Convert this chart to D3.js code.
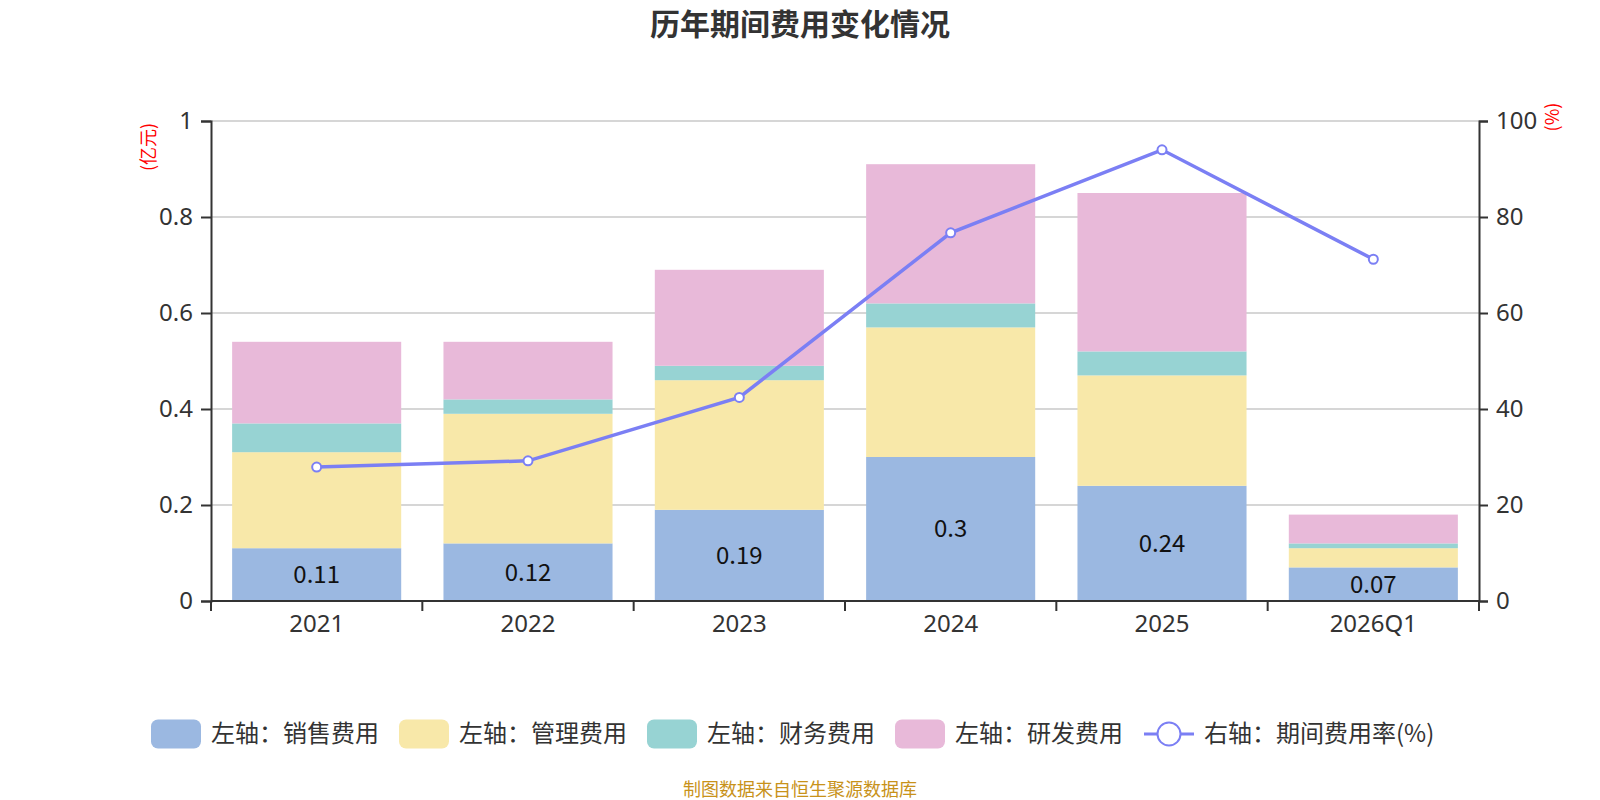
<!DOCTYPE html>
<html>
<head>
<meta charset="utf-8">
<script src="https://cdn.jsdelivr.net/npm/d3@7"></script>
<style>
  body { margin: 0; background: #fff; }
  svg { font-family: "Noto Sans CJK SC", "Noto Sans", sans-serif; }
</style>
</head>
<body>
<div id="chart"></div>
<script>
// data
const categories = ['2021', '2022', '2023', '2024', '2025', '2026Q1'];
const sales    = [0.11, 0.12, 0.19, 0.30, 0.24, 0.07];   // 销售费用
const admin    = [0.20, 0.27, 0.27, 0.27, 0.23, 0.04];   // 管理费用
const finance  = [0.06, 0.03, 0.03, 0.05, 0.05, 0.01];   // 财务费用
const rnd      = [0.17, 0.12, 0.20, 0.29, 0.33, 0.06];   // 研发费用
const rate     = [27.9, 29.2, 42.4, 76.7, 94.0, 71.2];   // 期间费用率(%)
const leftTicks  = [0, 0.2, 0.4, 0.6, 0.8, 1];
const rightTicks = [0, 20, 40, 60, 80, 100];
const seriesNames = ['左轴：销售费用', '左轴：管理费用', '左轴：财务费用', '左轴：研发费用'];
const lineName = '右轴：期间费用率(%)';

const colors = ['#9bb8e1', '#f8e8a9', '#97d3d3', '#e8b9d9'];
const lineColor = '#7b7ff4';

const W = 1600, H = 800;
const plot = { left: 211, right: 1479, top: 121, bottom: 601 };

const svg = d3.select('#chart').append('svg')
  .attr('width', W).attr('height', H);

const x = d3.scaleBand().domain(categories)
  .range([plot.left, plot.right]).paddingInner(0.2).paddingOuter(0.1);
const yL = d3.scaleLinear().domain([0, 1]).range([plot.bottom, plot.top]);
const yR = d3.scaleLinear().domain([0, 100]).range([plot.bottom, plot.top]);

// title
svg.append('text').attr('x', W / 2).attr('y', 35)
  .attr('text-anchor', 'middle').attr('font-size', 30).attr('font-weight', 'bold')
  .attr('fill', '#333').text('历年期间费用变化情况');

// grid
svg.append('g').selectAll('line').data(leftTicks.slice(1)).join('line')
  .attr('x1', plot.left).attr('x2', plot.right)
  .attr('y1', d => yL(d)).attr('y2', d => yL(d))
  .attr('stroke', '#c8c8c8').attr('stroke-width', 1.5);

// stacked bars
const table = categories.map((c, i) => ({
  cat: c, s0: sales[i], s1: admin[i], s2: finance[i], s3: rnd[i]
}));
const stack = d3.stack().keys(['s0', 's1', 's2', 's3'])(table);

svg.append('g').selectAll('g').data(stack).join('g')
  .attr('fill', (d, i) => colors[i])
  .selectAll('rect').data(d => d).join('rect')
  .attr('x', d => x(d.data.cat))
  .attr('width', x.bandwidth())
  .attr('y', d => yL(d[1]))
  .attr('height', d => yL(d[0]) - yL(d[1]));

// labels on sales segment
svg.append('g').selectAll('text').data(table).join('text')
  .attr('x', d => x(d.cat) + x.bandwidth() / 2)
  .attr('y', d => (yL(0) + yL(d.s0)) / 2)
  .attr('dy', '0.35em')
  .attr('text-anchor', 'middle').attr('font-size', 24).attr('fill', '#111')
  .text(d => d.s0);

// axes
const axL = svg.append('g').attr('transform', `translate(${plot.left},0)`)
  .call(d3.axisLeft(yL).tickValues(leftTicks).tickSize(10).tickPadding(8).tickFormat(d3.format('~g')));
const axR = svg.append('g').attr('transform', `translate(${plot.right},0)`)
  .call(d3.axisRight(yR).tickValues(rightTicks).tickSize(9).tickPadding(8));
const axB = svg.append('g').attr('transform', `translate(0,${plot.bottom})`)
  .call(d3.axisBottom(x).tickSize(0).tickPadding(14));

[axL, axR, axB].forEach(a => {
  a.select('.domain').attr('stroke', '#333').attr('stroke-width', 2);
  a.selectAll('.tick line').attr('stroke', '#333').attr('stroke-width', 2);
  a.selectAll('.tick text').attr('font-size', 24).attr('fill', '#333')
    .attr('font-family', '"Noto Sans", sans-serif');
});
axB.select('.domain').attr('d', `M${plot.left},0H${plot.right}`);

// x ticks on band boundaries
const step = x.step();
const bounds = d3.range(categories.length + 1).map(i => plot.left + i * step);
axB.append('g').selectAll('line').data(bounds).join('line')
  .attr('x1', d => d).attr('x2', d => d).attr('y1', 0).attr('y2', 10)
  .attr('stroke', '#333').attr('stroke-width', 2);

// unit labels
svg.append('text').attr('transform', 'translate(155,147) rotate(-90)')
  .attr('text-anchor', 'middle').attr('font-size', 18).attr('fill', 'red').text('(亿元)');
svg.append('text').attr('transform', 'translate(1559,117) rotate(-90)')
  .attr('text-anchor', 'middle').attr('font-size', 18).attr('fill', 'red').text('(%)');

// rate line
const line = d3.line()
  .x((d, i) => x(categories[i]) + x.bandwidth() / 2)
  .y(d => yR(d));
svg.append('path').datum(rate).attr('d', line)
  .attr('fill', 'none').attr('stroke', lineColor).attr('stroke-width', 3.5);
svg.append('g').selectAll('circle').data(rate).join('circle')
  .attr('cx', (d, i) => x(categories[i]) + x.bandwidth() / 2)
  .attr('cy', d => yR(d)).attr('r', 4.5)
  .attr('fill', '#fff').attr('stroke', lineColor).attr('stroke-width', 2);

// legend
const legY = 734;
const legX = [151, 399, 647, 895];
const leg = svg.append('g');
seriesNames.forEach((n, i) => {
  leg.append('rect').attr('x', legX[i]).attr('y', legY - 14.5)
    .attr('width', 50).attr('height', 29).attr('rx', 7)
    .attr('fill', colors[i]);
  leg.append('text').attr('x', legX[i] + 60).attr('y', legY).attr('dy', '0.35em')
    .attr('font-size', 24).attr('fill', '#333').text(n);
});
leg.append('line').attr('x1', 1144).attr('x2', 1194).attr('y1', legY).attr('y2', legY)
  .attr('stroke', lineColor).attr('stroke-width', 3);
leg.append('circle').attr('cx', 1169).attr('cy', legY).attr('r', 11.5)
  .attr('fill', '#fff').attr('stroke', lineColor).attr('stroke-width', 2);
leg.append('text').attr('x', 1204).attr('y', legY).attr('dy', '0.35em')
  .attr('font-size', 24).attr('fill', '#333').text(lineName);

// footer
svg.append('text').attr('x', W / 2).attr('y', 796)
  .attr('text-anchor', 'middle').attr('font-size', 18).attr('fill', '#c8921a')
  .text('制图数据来自恒生聚源数据库');
</script>
</body>
</html>
